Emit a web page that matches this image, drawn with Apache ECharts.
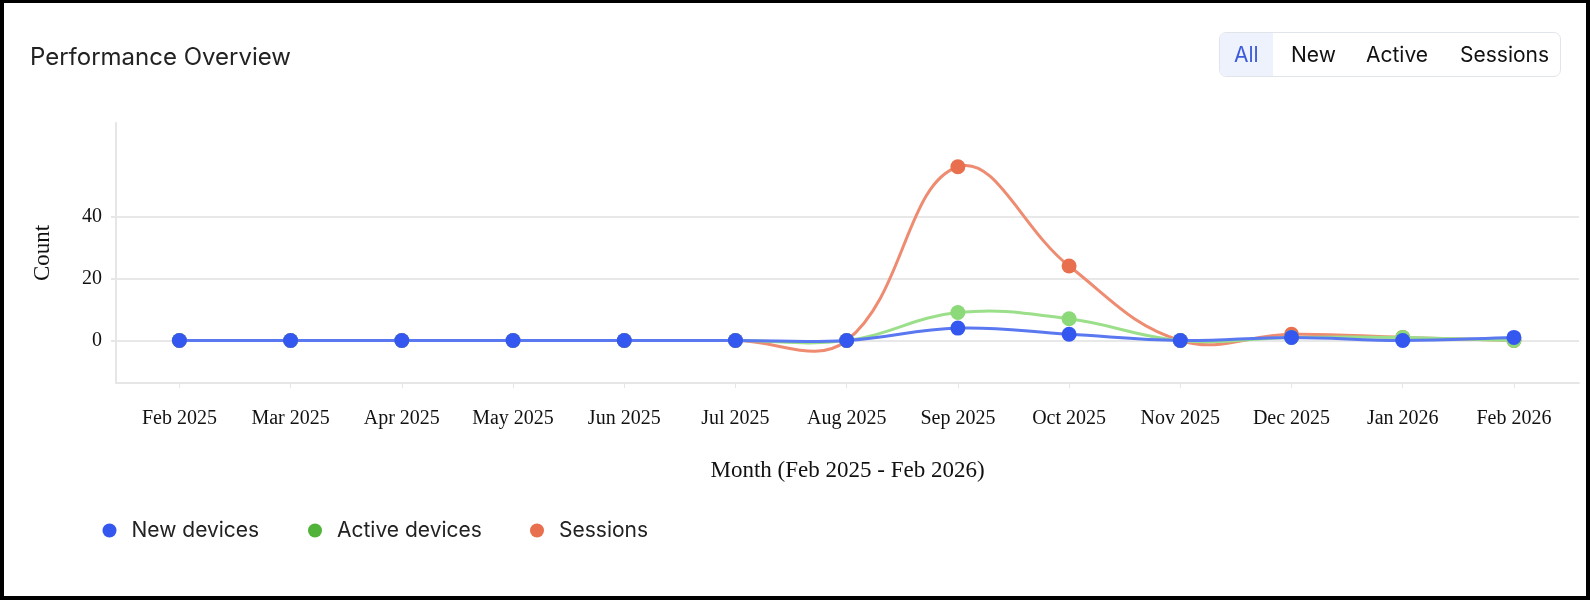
<!DOCTYPE html>
<html>
<head>
<meta charset="utf-8">
<script src="https://cdn.jsdelivr.net/npm/echarts@6/dist/echarts.min.js"></script>
<style>
  html, body { margin: 0; padding: 0; background: #fff; }
  #wrap { position: relative; width: 1590px; height: 600px; overflow: hidden; background: #fff; }
  #chart { position: absolute; left: 0; top: 0; width: 1590px; height: 600px; }
  #frame { position: absolute; left: 0; top: 0; width: 1590px; height: 600px; box-sizing: border-box;
           border-style: solid; border-color: #000; border-width: 3px 4px 4px 4px; pointer-events: none; }
  #title { position: absolute; left: 30px; top: 42px; font-family: Inter, "Noto Sans", sans-serif;
           font-size: 24px; line-height: 30px; color: #222; }
  #tabs { position: absolute; left: 1219px; top: 32px; width: 342px; height: 45px; box-sizing: border-box;
          border: 1px solid #e1e4ea; border-radius: 7px; font-family: Inter, "Noto Sans", sans-serif;
          font-size: 21px; color: #111; }
  #tabs .sel { position: absolute; left: 0; top: 0; width: 53px; height: 43px; background: #eef2fd;
               border-radius: 6px 0 0 6px; }
  #tabs span { position: absolute; top: 10px; line-height: 24px; white-space: nowrap; }
</style>
</head>
<body>
<div id="wrap">
  <div id="chart"></div>
  <div id="title">Performance Overview</div>
  <div id="tabs">
    <div class="sel"></div>
    <span style="left:14px;color:#3b5bdb">All</span>
    <span style="left:71px">New</span>
    <span style="left:146px">Active</span>
    <span style="left:240px">Sessions</span>
  </div>
  <div id="frame"></div>
</div>
<script>
const months = ["Feb 2025","Mar 2025","Apr 2025","May 2025","Jun 2025","Jul 2025","Aug 2025",
                "Sep 2025","Oct 2025","Nov 2025","Dec 2025","Jan 2026","Feb 2026"];
const newDevices    = [0,0,0,0,0,0,0,4,2,0,1,0,1];
const activeDevices = [0,0,0,0,0,0,0,9,7,0,1,1,0];
const sessions      = [0,0,0,0,0,0,0,56,24,0,2,1,0];
const yTicks = [0,20,40];
const seriesNames = ['New devices', 'Active devices', 'Sessions'];

const pairs = arr => arr.map((v,i) => [i, v]);
const serif = '"Liberation Serif","Times New Roman",serif';
const sans = 'Inter,"Noto Sans",sans-serif';
const monthIdx = months.map((m,i) => i);
const TENSION = 0.4;

// cardinal-style spline control points (tension based), computed in pixel space
function ctrl(pts, i) {
  const cur = pts[i];
  const prev = pts[i-1] || cur;
  const next = pts[i+1] || cur;
  const d01 = Math.hypot(cur[0]-prev[0], cur[1]-prev[1]);
  const d12 = Math.hypot(next[0]-cur[0], next[1]-cur[1]);
  let s01 = d01 / (d01 + d12), s12 = d12 / (d01 + d12);
  if (isNaN(s01)) s01 = 0;
  if (isNaN(s12)) s12 = 0;
  const fa = TENSION * s01, fb = TENSION * s12;
  return {
    prev: [cur[0] - fa*(next[0]-prev[0]), cur[1] - fa*(next[1]-prev[1])],
    next: [cur[0] + fb*(next[0]-prev[0]), cur[1] + fb*(next[1]-prev[1])]
  };
}

function makeSeries(name, values, lineColor, dotColor, z) {
  return {
    name, type: 'custom', z, data: pairs(values),
    encode: { x: 0, y: 1 },
    itemStyle: { color: dotColor },
    renderItem: function (params, api) {
      const i = params.dataIndex;
      const pts = values.map((v,k) => api.coord([k, v]));
      const cur = pts[i];
      const children = [];
      if (i < pts.length - 1) {
        const c1 = ctrl(pts, i).next, c2 = ctrl(pts, i+1).prev;
        children.push({
          type: 'bezierCurve',
          shape: { x1: cur[0], y1: cur[1], cpx1: c1[0], cpy1: c1[1], cpx2: c2[0], cpy2: c2[1],
                   x2: pts[i+1][0], y2: pts[i+1][1] },
          style: { stroke: lineColor, lineWidth: 3, fill: null }
        });
      }
      children.push({ type: 'circle', shape: { cx: cur[0], cy: cur[1], r: 7.5 }, style: { fill: dotColor } });
      return { type: 'group', children };
    }
  };
}

const legendBase = {
  top: 520, padding: 0, icon: 'circle', itemWidth: 14, itemHeight: 14,
  textStyle: { fontFamily: sans, fontSize: 21, color: '#222', padding: [0,0,0,10] }
};
const legendColors = ['#3457ef', '#52b33a', '#e8704e'];
const legendLefts = [102.5, 308, 530];

const chart = echarts.init(document.getElementById('chart'), null, {renderer: 'canvas'});
chart.setOption({
  animation: false,
  backgroundColor: '#fff',
  grid: { left: 116, right: 11, top: 123, bottom: 217, containLabel: false, outerBoundsMode: 'none' },
  legend: seriesNames.map((n, k) => Object.assign({}, legendBase, {
    left: legendLefts[k], data: [{ name: n, itemStyle: { color: legendColors[k] } }]
  })),
  xAxis: {
    type: 'value', min: -0.57, max: 12.585,
    name: 'Month (Feb 2025 - Feb 2026)', nameLocation: 'middle', nameGap: 76,
    nameTextStyle: { fontFamily: serif, fontSize: 23, color: '#111' },
    axisLine: { show: true, onZero: false, lineStyle: { color: '#e6e6e6', width: 2 } },
    axisTick: { show: true, length: 5, customValues: monthIdx, lineStyle: { color: '#e6e6e6', width: 1 } },
    axisLabel: { customValues: monthIdx, margin: 26, fontFamily: serif, fontSize: 20, color: '#111',
                 formatter: v => months[Math.round(v)] },
    splitLine: { show: false }
  },
  yAxis: {
    type: 'value', min: -13.7, max: 70.1,
    name: 'Count', nameLocation: 'middle', nameGap: 62, nameRotate: 90,
    nameTextStyle: { fontFamily: serif, fontSize: 23, color: '#111' },
    axisLine: { show: true, onZero: false, lineStyle: { color: '#e6e6e6', width: 2 } },
    axisTick: { show: true, length: 5, customValues: yTicks, lineStyle: { color: '#e6e6e6', width: 2 } },
    axisLabel: { customValues: yTicks, margin: 14, fontFamily: serif, fontSize: 20, color: '#111' },
    splitLine: { show: true, lineStyle: { color: '#e8e8e8', width: 2 } }
  },
  series: [
    makeSeries('New devices', newDevices, '#5a78f0', '#3457ef', 5),
    makeSeries('Active devices', activeDevices, '#9cdf8b', '#8bd978', 4),
    makeSeries('Sessions', sessions, '#ee8b70', '#e8704e', 3)
  ]
});
</script>
</body>
</html>
